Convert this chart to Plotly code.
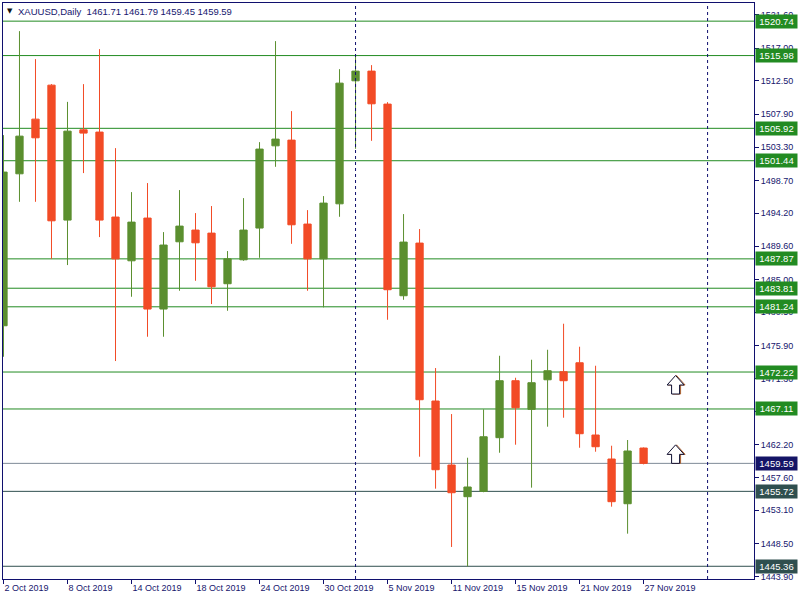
import plotly.graph_objects as go

# ---------------- data ----------------
symbol = "XAUUSD,Daily"
bar_index = list(range(41))
opens = [1478.62, 1499.63, 1507.19, 1511.89, 1493.23, 1505.71, 1505.40, 1493.65, 1487.60, 1493.51,
         1480.93, 1490.23, 1491.85, 1491.43, 1484.43, 1487.74, 1492.13, 1503.50, 1504.29, 1492.68,
         1487.87, 1495.48, 1512.49, 1513.83, 1509.27, 1482.77, 1490.05, 1468.21, 1459.36, 1454.98,
         1455.72, 1463.14, 1471.02, 1467.06, 1471.15, 1472.26, 1473.50, 1463.51, 1460.19, 1454.01,
         1461.71]
highs = [1504.98, 1519.36, 1515.49, 1512.03, 1509.58, 1512.03, 1516.87, 1503.18, 1497.10, 1498.35,
         1491.57, 1497.38, 1494.20, 1495.17, 1488.95, 1496.27, 1504.01, 1517.98, 1508.30, 1494.61,
         1496.55, 1514.10, 1515.98, 1514.66, 1509.54, 1494.06, 1491.99, 1472.77, 1466.41, 1460.37,
         1467.06, 1474.47, 1471.43, 1473.92, 1475.30, 1478.90, 1475.72, 1473.09, 1462.03, 1462.82,
         1461.79]
lows = [1474.33, 1495.76, 1495.76, 1487.87, 1487.01, 1499.73, 1490.88, 1473.74, 1482.63, 1477.10,
        1477.10, 1483.46, 1484.84, 1481.62, 1480.69, 1487.60, 1488.02, 1500.60, 1489.95, 1483.46,
        1481.16, 1493.69, 1503.09, 1504.19, 1479.45, 1482.21, 1460.51, 1456.09, 1448.03, 1445.36,
        1455.60, 1461.06, 1462.17, 1456.23, 1464.66, 1465.90, 1461.75, 1461.20, 1453.60, 1449.87,
        1459.45]
closes = [1499.87, 1504.84, 1504.61, 1493.13, 1505.53, 1505.26, 1493.23, 1487.87, 1492.95, 1480.93,
          1489.78, 1492.40, 1490.09, 1484.01, 1487.87, 1491.85, 1503.05, 1504.43, 1492.58, 1487.87,
          1495.58, 1512.17, 1513.83, 1509.31, 1483.60, 1490.19, 1468.39, 1458.71, 1455.53, 1456.32,
          1463.27, 1471.02, 1467.28, 1470.74, 1472.40, 1471.02, 1463.69, 1461.89, 1454.29, 1461.30,
          1459.59]

date_tick_bars = [0, 4, 8, 12, 16, 20, 24, 28, 32, 36, 40]
date_tick_labels = ["2 Oct 2019", "8 Oct 2019", "14 Oct 2019", "18 Oct 2019", "24 Oct 2019",
                    "30 Oct 2019", "5 Nov 2019", "11 Nov 2019", "15 Nov 2019", "21 Nov 2019",
                    "27 Nov 2019"]
price_ticks = [1521.60, 1517.00, 1512.50, 1507.90, 1503.30, 1498.70, 1494.20, 1489.60, 1485.00,
               1480.50, 1475.90, 1471.30, 1466.80, 1462.20, 1457.60, 1453.10, 1448.50, 1443.90]
green_levels = [1520.74, 1515.98, 1505.92, 1501.44, 1487.87, 1483.81, 1481.24, 1472.22, 1467.11]
dark_levels = [1455.72, 1445.36]
separator_bars = [22, 44]
arrow_bars = [42, 42]
arrow_prices = [1469.18, 1459.59]   # base of each up arrow

# ---------------- styles ----------------
NAVY = "#10106e"
TXT = "#16166e"
LINE_GREEN = "#228b22"
DARK_SLATE = "#2f4f4f"
CLOSE_GRAY = "#7f8b97"
CANDLE_GREEN = "#5b8f2f"
CANDLE_RED = "#f24b26"
FONT = "Liberation Sans"

# block up-arrow outline in pixels relative to its anchor (y up)
ARROW_PATH = "M -4,0 L -4,9 L -8.5,9 L 0,18.5 L 8.5,9 L 4,9 L 4,0 Z"

fig = go.Figure()

fig.add_trace(go.Candlestick(
    x=bar_index, open=opens, high=highs, low=lows, close=closes,
    increasing=dict(line=dict(color=CANDLE_GREEN, width=1), fillcolor=CANDLE_GREEN),
    decreasing=dict(line=dict(color=CANDLE_RED, width=1), fillcolor=CANDLE_RED),
    whiskerwidth=0, showlegend=False, hoverinfo="skip",
))

shapes = []
for lv in green_levels:
    shapes.append(dict(type="line", xref="paper", x0=0, x1=1, yref="y", y0=lv, y1=lv,
                       line=dict(color=LINE_GREEN, width=1), layer="below"))
for lv in dark_levels:
    shapes.append(dict(type="line", xref="paper", x0=0, x1=1, yref="y", y0=lv, y1=lv,
                       line=dict(color=DARK_SLATE, width=1), layer="below"))
last_close = closes[-1]
shapes.append(dict(type="line", xref="paper", x0=0, x1=1, yref="y", y0=last_close, y1=last_close,
                   line=dict(color=CLOSE_GRAY, width=1), layer="below"))
for sb in separator_bars:
    shapes.append(dict(type="line", xref="x", x0=sb, x1=sb, yref="paper", y0=0, y1=1,
                       line=dict(color=NAVY, width=1, dash="3px,3px"), layer="above"))

for ab, ap in zip(arrow_bars, arrow_prices):
    # shadow
    shapes.append(dict(type="path", xref="x", yref="y", xsizemode="pixel", ysizemode="pixel",
                       xanchor=ab + 1 / 16, yanchor=ap, path=ARROW_PATH,
                       line=dict(color="#b5652e", width=1), fillcolor="rgba(0,0,0,0)",
                       layer="above"))
    shapes.append(dict(type="path", xref="x", yref="y", xsizemode="pixel", ysizemode="pixel",
                       xanchor=ab, yanchor=ap, path=ARROW_PATH,
                       line=dict(color="#111133", width=1), fillcolor="white",
                       layer="above"))

annotations = []


def price_box(val, bg):
    return dict(xref="paper", x=1, xanchor="left", xshift=1, yref="y", y=val, yanchor="middle",
                text=f"{val:.2f}", showarrow=False, bgcolor=bg, borderpad=1,
                width=39, height=11, align="center",
                font=dict(family=FONT, size=9.5, color="white"))


for lv in green_levels:
    annotations.append(price_box(lv, LINE_GREEN))
for lv in dark_levels:
    annotations.append(price_box(lv, DARK_SLATE))
annotations.append(price_box(last_close, "#141466"))

header = f"{symbol}  {opens[-1]:.2f} {highs[-1]:.2f} {lows[-1]:.2f} {closes[-1]:.2f}"
annotations.append(dict(xref="paper", x=0, xanchor="left", xshift=2, yref="paper", y=1,
                        yanchor="middle", yshift=-8, text="▼", showarrow=False,
                        font=dict(family="DejaVu Sans", size=7, color="#111111")))
annotations.append(dict(xref="paper", x=0, xanchor="left", xshift=13, yref="paper", y=1,
                        yanchor="middle", yshift=-8, text=header, showarrow=False,
                        font=dict(family=FONT, size=9.5, color=TXT)))

fig.update_layout(
    width=800, height=600,
    margin=dict(l=3, r=46, t=3, b=21, pad=0),
    paper_bgcolor="white", plot_bgcolor="white",
    boxgap=0.35,
    shapes=shapes, annotations=annotations,
    xaxis=dict(
        range=[-0.03, 46.9], rangeslider=dict(visible=False),
        tickmode="array", tickvals=date_tick_bars, ticktext=date_tick_labels,
        ticks="outside", ticklen=4, tickcolor=NAVY, ticklabelposition="outside right",
        tickfont=dict(family=FONT, size=9, color=TXT),
        showgrid=False, zeroline=False,
        showline=True, linecolor=NAVY, linewidth=1, mirror=True,
    ),
    yaxis=dict(
        side="right", range=[1443.60, 1523.25],
        tickmode="array", tickvals=price_ticks, ticktext=[f"{v:.2f}" for v in price_ticks],
        ticks="outside", ticklen=4, tickcolor=NAVY,
        tickfont=dict(family=FONT, size=9, color=TXT),
        showgrid=False, zeroline=False,
        showline=True, linecolor=NAVY, linewidth=1, mirror=True,
    ),
    hovermode=False,
)

fig.write_html("out.html", config={"displayModeBar": False, "staticPlot": True},
               post_script="document.body.style.margin='0';document.body.style.overflow='hidden';")
